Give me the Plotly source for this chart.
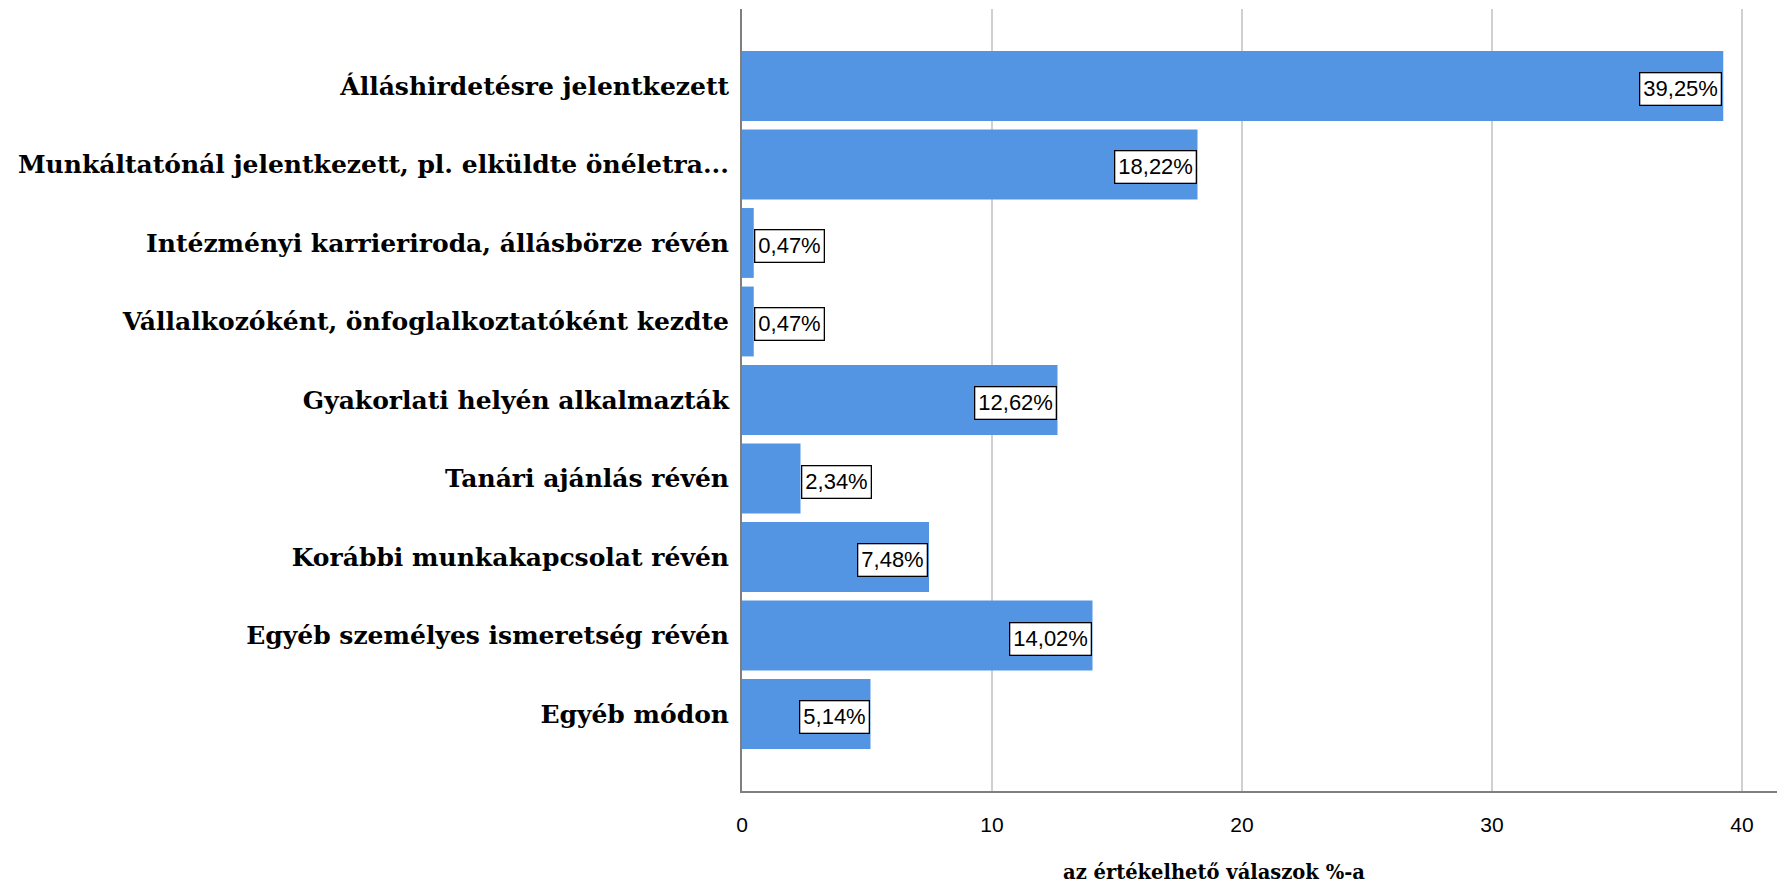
import plotly.graph_objects as go

categories = [
    "Álláshirdetésre jelentkezett",
    "Munkáltatónál jelentkezett, pl. elküldte önéletra...",
    "Intézményi karrieriroda, állásbörze révén",
    "Vállalkozóként, önfoglalkoztatóként kezdte",
    "Gyakorlati helyén alkalmazták",
    "Tanári ajánlás révén",
    "Korábbi munkakapcsolat révén",
    "Egyéb személyes ismeretség révén",
    "Egyéb módon",
]
values = [39.25, 18.22, 0.47, 0.47, 12.62, 2.34, 7.48, 14.02, 5.14]
x_ticks = [0, 10, 20, 30, 40]
x_title = "az értékelhető válaszok %-a"

# page body has an 8px default margin, so compensate
OFF = 8
W, H = 1785 - OFF, 885 - OFF
ML, MR, MT, MB = 742 - OFF, 0, 9 - OFF, 94

fig = go.Figure()
fig.add_trace(go.Bar(
    y=categories, x=values, orientation="h",
    marker=dict(color="rgb(84,149,227)", line=dict(width=0)),
    hoverinfo="skip",
))

for c, v in zip(categories, values):
    lbl = f"{v:.2f}".replace(".", ",") + "%"
    if v < 4:
        xa, xs = "left", 0
    else:
        xa, xs = "right", -1
    fig.add_annotation(
        x=v, y=c, xref="x", yref="y", text=lbl, showarrow=False,
        xanchor=xa, xshift=xs, yshift=-3,
        font=dict(family="Liberation Sans, Arial, sans-serif", size=22, color="black"),
        bgcolor="white", bordercolor="black", borderwidth=1.3, borderpad=3,
    )

fig.add_annotation(
    x=(1214 - 742) / (W - ML - MR), y=0, xref="paper", yref="paper",
    yshift=-(872 - 791), text=x_title, showarrow=False,
    xanchor="center", yanchor="middle",
    font=dict(family="DejaVu Serif, serif", size=19.5, color="black", weight="bold"),
)

fig.update_layout(
    width=W, height=H,
    margin=dict(l=ML, r=MR, t=MT, b=MB, pad=0),
    paper_bgcolor="white", plot_bgcolor="white",
    bargap=0.11, showlegend=False,
)
fig.update_yaxes(
    categoryorder="array", categoryarray=categories,
    range=[8.98, -0.98], automargin=False,
    showgrid=False, zeroline=False,
    showline=True, linecolor="#7f7f7f", linewidth=2,
    ticks="", ticklabelstandoff=6,
    tickfont=dict(family="DejaVu Serif, serif", size=25, color="black", weight="bold"),
)
fig.update_xaxes(
    range=[0, (W - ML - MR) / 25.0], automargin=False,
    tickvals=x_ticks, ticktext=[str(t) for t in x_ticks],
    showgrid=True, gridcolor="#d0d0d0", gridwidth=2,
    zeroline=False,
    showline=True, linecolor="#7f7f7f", linewidth=2,
    ticks="", ticklabelstandoff=14,
    tickfont=dict(family="Liberation Sans, Arial, sans-serif", size=21, color="black"),
)

fig.write_html("out.html")
